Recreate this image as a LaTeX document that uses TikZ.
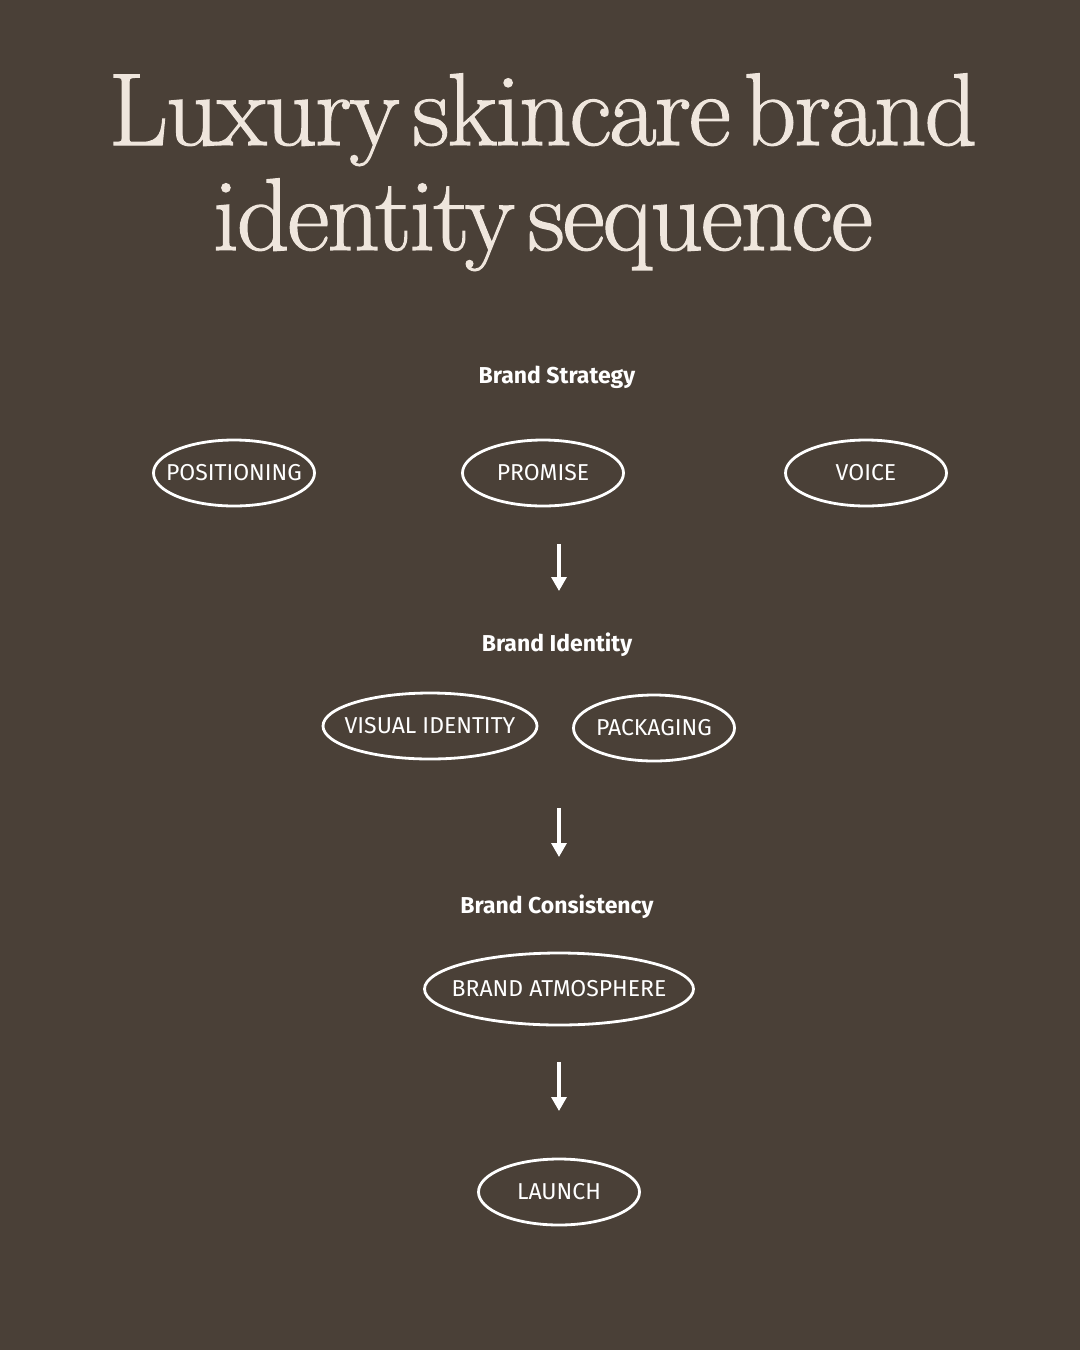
\documentclass[tikz,border=0pt]{standalone}
\usepackage{fontspec}
\setsansfont{Fira Sans}
\newfontfamily\titlefont[FakeBold=1.2,LetterSpace=-2,WordSpace=0.45]{Latin Modern Roman}
\usetikzlibrary{shapes.geometric,arrows.meta}
\definecolor{bgbrown}{HTML}{4A4037}
\definecolor{cream}{HTML}{EFE6DD}
\newcommand\ovallabel[1]{\makebox[0pt]{#1}}
\begin{document}
\begin{tikzpicture}[x=1pt,y=-1pt,
  oval/.style={draw=white,line width=2.8pt,shape=ellipse,text=white,inner sep=0pt,
    minimum width=161pt,minimum height=66pt,font=\sffamily\fontsize{23}{23}\selectfont},
  stage/.style={anchor=base,text=white,font=\sffamily\bfseries\fontsize{23}{23}\selectfont},
  headline/.style={anchor=base,text=cream,font=\titlefont\fontsize{103}{103}\selectfont},
  flow/.style={white,line width=3.2pt,-{Triangle[width=15pt,length=14pt]}}]
\fill[bgbrown] (0,0) rectangle (1080,1350);
% title
\path (543,145) node(title_0) [headline] {Luxury skincare brand};
\path (543,250) node(title_1) [headline] {identity sequence};
% brand strategy
\path (557,383) node(strategy) [stage] {Brand Strategy};
\path (234,473) node(positioning) [oval] {\ovallabel{POSITIONING}};
\path (543,473) node(promise) [oval] {\ovallabel{PROMISE}};
\path (866,473) node(voice) [oval] {\ovallabel{VOICE}};
\coordinate (flow_0a) at (559,544);
\coordinate (flow_0b) at (559,591);
\draw[flow] (flow_0a) -- (flow_0b);
% brand identity
\path (557,651) node(identity) [stage] {Brand Identity};
\path (430,726) node(visual) [oval,minimum width=214pt] {\ovallabel{VISUAL IDENTITY}};
\path (654,728) node(packaging) [oval] {\ovallabel{PACKAGING}};
\coordinate (flow_1a) at (559,808);
\coordinate (flow_1b) at (559,857);
\draw[flow] (flow_1a) -- (flow_1b);
% brand consistency
\path (557,913) node(consistency) [stage] {Brand Consistency};
\path (559,989) node(atmosphere) [oval,minimum width=269pt,minimum height=72pt] {\ovallabel{BRAND ATMOSPHERE}};
\coordinate (flow_2a) at (559,1062);
\coordinate (flow_2b) at (559,1111);
\draw[flow] (flow_2a) -- (flow_2b);
% launch
\path (559,1192) node(launch) [oval] {\ovallabel{LAUNCH}};
\end{tikzpicture}
\end{document}
